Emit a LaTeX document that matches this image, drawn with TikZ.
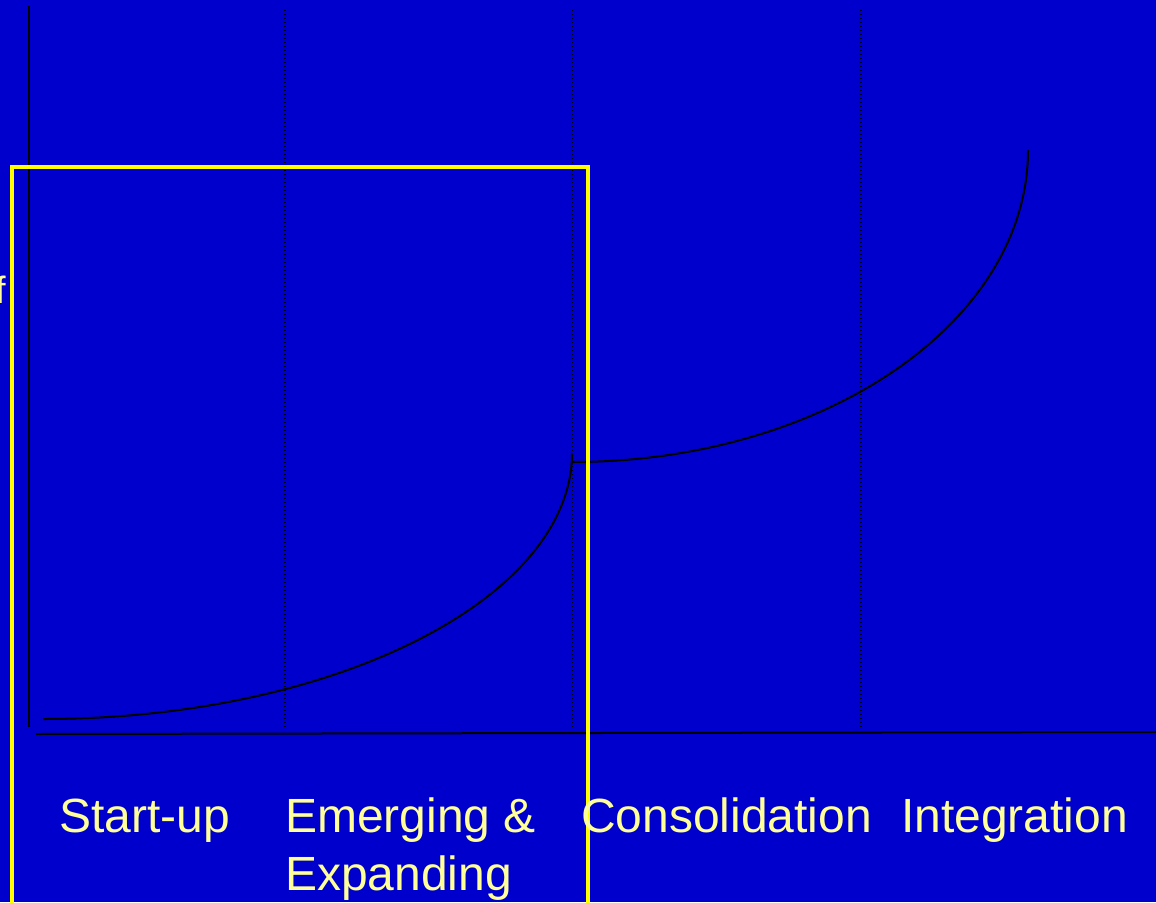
\documentclass[tikz,border=0pt]{standalone}
\usepackage{fontspec}
\setmainfont{Liberation Sans}
\definecolor{bgblue}{RGB}{0,0,204}
\definecolor{txtyellow}{RGB}{255,255,153}
\definecolor{boxyellow}{RGB}{255,255,0}
\tikzset{
  axisline/.style={black, line width=2pt},
  gridline/.style={black, line width=1.2pt, dash pattern=on 1.2pt off 2.8pt},
  curveline/.style={black, line width=2pt},
  phaselabel/.style={text=txtyellow, anchor=base west, inner sep=0pt, font=\fontsize{48}{58}\selectfont, align=left},
  frame/.style={draw=boxyellow, line width=4pt}
}
\begin{document}
\begin{tikzpicture}[x=1pt,y=-1pt]
\useasboundingbox (0,0) rectangle (1156,902);
\clip (0,0) rectangle (1156,902);
\fill[bgblue] (0,0) rectangle (1156,902);
% axis label fragment (cut off at the left edge, as in the reference)
\node[text=txtyellow, anchor=base west, inner sep=0pt, font=\fontsize{38}{44}\selectfont] (ylab) at (-4.5,303) {f};
% coordinates
\coordinate (ytop) at (28.7,6);
\coordinate (ybot) at (28.7,727);
\coordinate (xl) at (36,734);
\coordinate (xr) at (1156,732);
% dotted dividers
\foreach \x/\n in {285/a,572.5/b,861/c}{
  \coordinate (g\n t) at (\x,10);
  \coordinate (g\n b) at (\x,727);
  \draw[gridline] (g\n t) -- (g\n b);
}
% axes
\draw[axisline] (ytop) -- (ybot);
\draw[axisline] (xl) -- (xr);
% curves
\coordinate (c1s) at (43,719);
\coordinate (c1e) at (572,453);
\coordinate (c2s) at (572,462);
\coordinate (c2e) at (1028,150);
\draw[curveline] (c1s) .. controls (335.2,719) and (572,598) .. (c1e) -- (c2s)
  .. controls (823.8,462) and (1028,322.3) .. (c2e);
% yellow frame
\coordinate (fa) at (12,167);
\coordinate (fb) at (587.7,920);
\draw[frame] (fa) rectangle (fb);
% labels
\node[phaselabel] (p1) at (59,832) {Start-up};
\node[phaselabel] (p2) at (285,890) {Emerging \&\\Expanding};
\node[phaselabel] (p3) at (581,832) {Consolidation};
\node[phaselabel] (p4) at (901,832) {Integration};
\end{tikzpicture}
\end{document}
